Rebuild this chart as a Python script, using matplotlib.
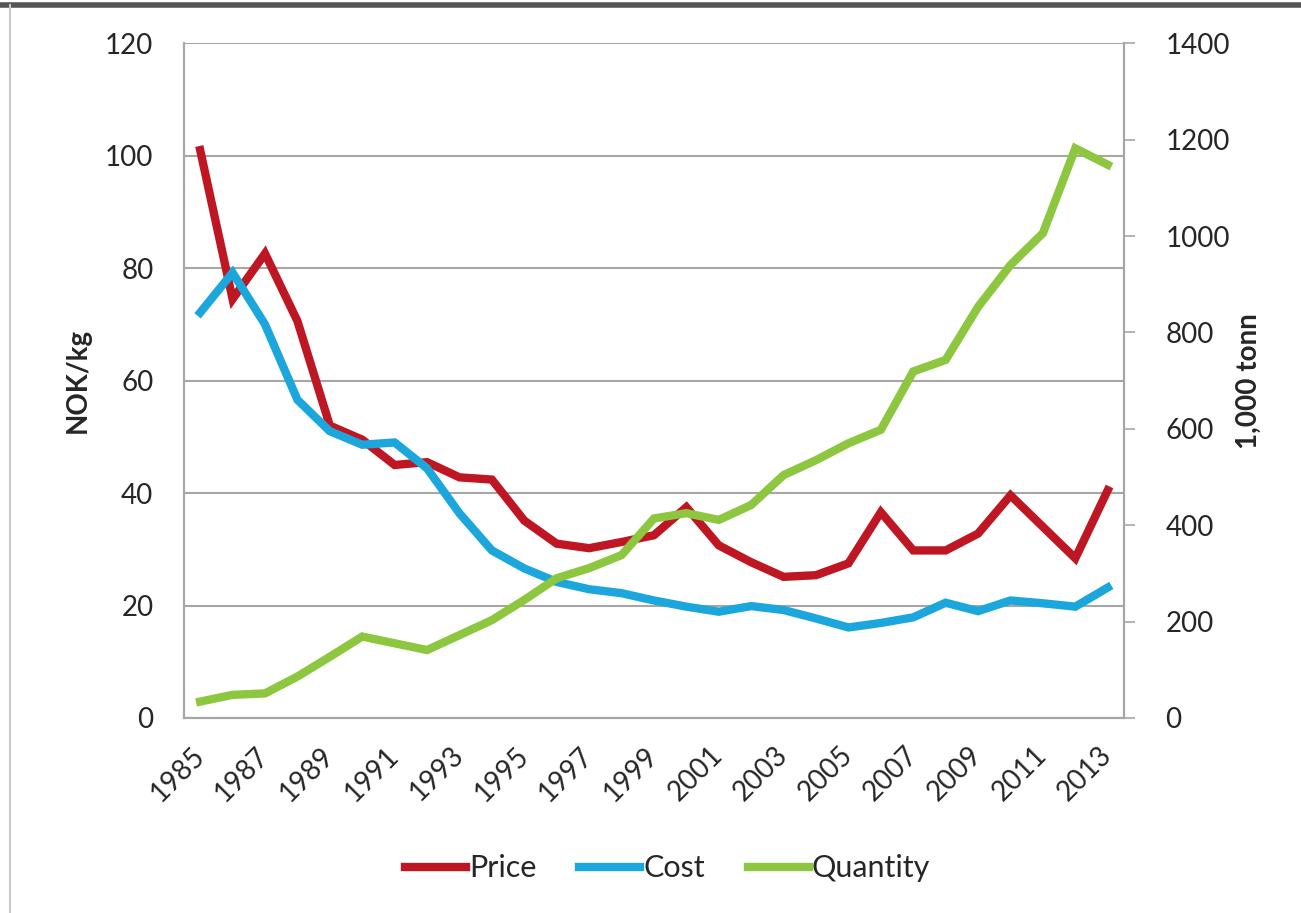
import numpy as np
import matplotlib.pyplot as plt
from matplotlib.lines import Line2D

plt.rcParams['font.family'] = ['Lato', 'DejaVu Sans']

# data
years = list(range(1985, 2014))
price = [101, 74.5, 82.6, 70.6, 52, 49.5, 45, 45.5, 42.8, 42.4, 35.1, 31, 30.2, 31.3,
         32.5, 37.5, 30.7, 27.7, 25.1, 25.4, 27.5, 36.6, 29.8, 29.8, 32.8, 39.6, 34,
         28.4, 40.5]
cost = [72.1, 79.2, 70, 56.6, 51, 48.6, 49, 44.4, 36.4, 29.8, 26.6, 24.2, 22.9, 22.2,
        20.9, 19.8, 18.9, 19.9, 19.2, 17.7, 16.1, 16.9, 17.9, 20.5, 19, 20.9, 20.4,
        19.8, 23.2]
quantity = [34, 48, 51, 86, 127, 169, 155, 141, 172, 203, 245, 290, 311, 338, 414,
            425, 411, 442, 504, 535, 570, 598, 719, 743, 853, 940, 1006, 1182, 1148]

red = '#BE1622'
blue = '#1BA7DB'
green = '#8DC63F'
grid_c = '#A6A6A6'
txt_c = '#262626'

fig = plt.figure(figsize=(13.01, 9.13), dpi=100)
ax = fig.add_axes([0.1414, 0.2136, 0.7225, 0.739])
ax2 = ax.twinx()

x = np.arange(len(years))
lw = 6
ax.plot(x, price, color=red, lw=lw, solid_joinstyle='miter', zorder=3)
ax.plot(x, cost, color=blue, lw=lw, solid_joinstyle='miter', zorder=3)
# secondary axis series sits on top, as in the original
ax2.plot(x, quantity, color=green, lw=lw, solid_joinstyle='miter', zorder=3)

ax.set_xlim(-0.5, len(years) - 0.5)
ax.set_ylim(0, 120)
ax2.set_ylim(0, 1400)
ax.set_yticks(range(0, 121, 20))
ax2.set_yticks(range(0, 1401, 200))
ax.yaxis.grid(True, color=grid_c, lw=1.5)
ax.set_axisbelow(True)

ax.set_xticks(x[::2])
ax.set_xticklabels([str(y) for y in years[::2]], rotation=45, ha='right',
                   va='center', rotation_mode='anchor')
ax.tick_params(axis='x', length=0, pad=24, labelsize=20, labelcolor=txt_c)
ax.tick_params(axis='y', length=0, pad=22, labelsize=20, labelcolor=txt_c)
ax2.tick_params(axis='y', length=8, width=1.2, color=grid_c, pad=22,
                labelsize=20, labelcolor=txt_c)

for a in (ax, ax2):
    for s in a.spines.values():
        s.set_color(grid_c)
        s.set_linewidth(1.5)
    a.spines['top'].set_visible(False)

ax.set_ylabel('NOK/kg', fontsize=20, fontweight='bold', color=txt_c, labelpad=10)
ax2.set_ylabel('1,000 tonn', fontsize=20, fontweight='bold', color=txt_c, labelpad=4)

handles = [Line2D([], [], color=red, lw=lw),
           Line2D([], [], color=blue, lw=lw),
           Line2D([], [], color=green, lw=lw)]
fig.legend(handles, ['Price', 'Cost', 'Quantity'], loc='center',
           bbox_to_anchor=(0.513, 0.049), ncol=3, frameon=False, fontsize=22,
           handlelength=2.0, handletextpad=0.1, columnspacing=1.4,
           labelcolor=txt_c)

# frame pieces of the original picture
fig.add_artist(Line2D([0, 1], [0.994, 0.994], color='#555555', lw=4))
fig.add_artist(Line2D([0.008, 0.008], [0, 0.994], color='#C8C8C8', lw=1.5))

fig.savefig('out.png', dpi=100, facecolor='white')
